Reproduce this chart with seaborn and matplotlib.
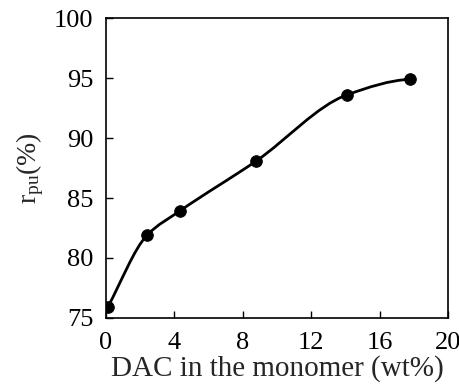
import numpy as np
import pandas as pd
import matplotlib
matplotlib.use("Agg")
import matplotlib.pyplot as plt
from matplotlib.path import Path
from matplotlib.patches import PathPatch
import seaborn as sns

# DAC content (wt%) vs r_pu (%)
dac = [0.1, 2.4, 4.3, 8.8, 14.1, 17.8]
r_pu = [75.9, 81.9, 83.9, 88.1, 93.6, 94.9]
x_ticks = [0, 4, 8, 12, 16, 20]
y_ticks = [75, 80, 85, 90, 95, 100]

sns.set_theme(style="ticks")
plt.rcParams["font.family"] = ["Liberation Serif", "DejaVu Serif"]
plt.rcParams["mathtext.fontset"] = "custom"
plt.rcParams["mathtext.rm"] = "Liberation Serif"

df = pd.DataFrame({"dac": dac, "r": r_pu})

fig = plt.figure(figsize=(4.6, 3.92), dpi=100)
ax = fig.add_axes([0.2304, 0.1888, 0.7435, 0.7652])

# smooth connecting curve: monotone cubic (PCHIP slopes) drawn as Bezier segments
x = np.asarray(dac, float)
y = np.asarray(r_pu, float)
h = np.diff(x)
d = np.diff(y) / h
m = np.zeros_like(x)
for k in range(1, len(x) - 1):
    w1, w2 = 2 * h[k] + h[k - 1], h[k] + 2 * h[k - 1]
    m[k] = (w1 + w2) / (w1 / d[k - 1] + w2 / d[k])
m[0] = d[0]  # first stretch is almost straight in the original
m[-1] = ((2 * h[-1] + h[-2]) * d[-1] - h[-1] * d[-2]) / (h[-1] + h[-2])
m[-1] = max(m[-1], 0)
verts = [(x[0], y[0])]
codes = [Path.MOVETO]
for k in range(len(x) - 1):
    verts += [(x[k] + h[k] / 3, y[k] + m[k] * h[k] / 3),
              (x[k + 1] - h[k] / 3, y[k + 1] - m[k + 1] * h[k] / 3),
              (x[k + 1], y[k + 1])]
    codes += [Path.CURVE4] * 3
ax.add_patch(PathPatch(Path(verts, codes), fill=False, lw=2.0, color="black"))

sns.scatterplot(data=df, x="dac", y="r", ax=ax, color="black", s=70,
                edgecolor="black", zorder=3, legend=False)

ax.set_xlim(0, 20)
ax.set_ylim(75, 100)
ax.set_xticks(x_ticks)
ax.set_yticks(y_ticks)
ax.tick_params(direction="in", length=5, width=1, labelsize=19, colors="black")
ax.tick_params(axis="x", pad=10)
ax.tick_params(axis="y", pad=9)
for s in ax.spines.values():
    s.set_linewidth(1.2)
    s.set_color("black")
ax.set_xlabel("DAC in the monomer (wt%)", fontsize=21, labelpad=1)
ax.set_ylabel(r"$\mathregular{r_{pu}}$(%)", fontsize=20, labelpad=6)

fig.savefig("out.png", dpi=100)
